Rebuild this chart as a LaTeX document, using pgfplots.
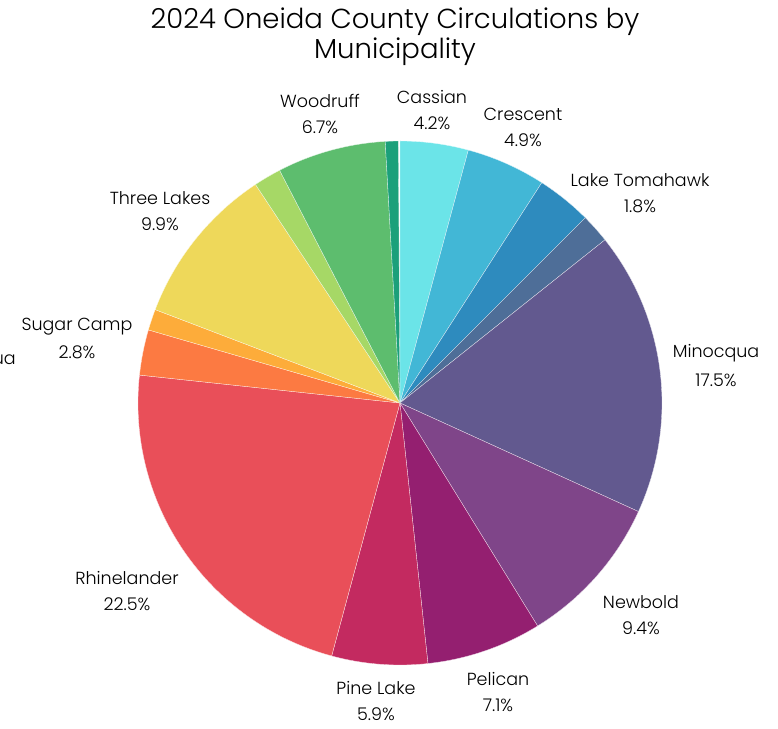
\documentclass[border=0pt]{standalone}
\usepackage{fontspec}
\setmainfont{Poppins}[UprightFont={* Light}]
\usepackage{pgfplots}
\usepackage{pgfplotstable}
\pgfplotsset{compat=1.18}
\definecolor{c0}{HTML}{6BE4E8}
\definecolor{c1}{HTML}{42B7D6}
\definecolor{c2}{HTML}{2E8BBE}
\definecolor{c3}{HTML}{4E6E98}
\definecolor{c4}{HTML}{62598F}
\definecolor{c5}{HTML}{7F4589}
\definecolor{c6}{HTML}{941F70}
\definecolor{c7}{HTML}{C32A60}
\definecolor{c8}{HTML}{E94F59}
\definecolor{c9}{HTML}{FC7A42}
\definecolor{c10}{HTML}{FDAC3A}
\definecolor{c11}{HTML}{EED85A}
\definecolor{c12}{HTML}{A6D866}
\definecolor{c13}{HTML}{5DBD6E}
\definecolor{c14}{HTML}{1BA07A}
\pgfplotstableread[col sep=comma]{
name,value
Cassian,4.2
Crescent,4.9
Hazelhurst,3.4
Lake Tomahawk,1.8
Minocqua,17.5
Newbold,9.4
Pelican,7.1
Pine Lake,5.9
Rhinelander,22.5
Sugar Camp,2.8
Other A,1.3
Three Lakes,9.9
Other B,1.7
Woodruff,6.7
Other C,0.8
}\data
\begin{document}
\begin{tikzpicture}
\begin{axis}[hide axis, x=1pt, y=1pt, xmin=-400, xmax=378, ymin=-325, ymax=403,
  scale only axis, anchor=south west, at={(0,0)}, clip=false]
\pgfmathsetmacro\cum{0}
\pgfplotsforeachungrouped \i in {0,...,14}{%
  \pgfplotstablegetelem{\i}{value}\of\data
  \let\v\pgfplotsretval
  \pgfmathsetmacro\a{90-3.6*\cum}%
  \pgfmathsetmacro\b{90-3.6*(\cum+\v)}%
  \edef\temp{\noexpand\fill[c\i, draw=white!85!c\i, line width=0.3pt] (axis cs:0,0) -- ++(\a:262pt) arc[start angle=\a, end angle=\b, radius=262pt] -- cycle;}%
  \temp
  \pgfmathsetmacro\cum{\cum+\v}%
}
\tikzset{lab/.style={align=center, font=\fontsize{17.5}{26}\selectfont, inner sep=0pt}}
\node[lab] at (axis cs:-80,289) {Woodruff\\6.7\%};
\node[lab] at (axis cs:32,293) {Cassian\\4.2\%};
\node[lab] at (axis cs:123,276) {Crescent\\4.9\%};
\node[lab] at (axis cs:240,210) {Lake Tomahawk\\1.8\%};
\node[lab, font=\fontsize{17.5}{29}\selectfont] at (axis cs:316,37) {Minocqua\\17.5\%};
\node[lab] at (axis cs:241,-212) {Newbold\\9.4\%};
\node[lab] at (axis cs:98,-289) {Pelican\\7.1\%};
\node[lab] at (axis cs:-24,-298) {Pine Lake\\5.9\%};
\node[lab] at (axis cs:-273,-188) {Rhinelander\\22.5\%};
\node[lab, font=\fontsize{17.5}{28}\selectfont] at (axis cs:-323,64) {Sugar Camp\\2.8\%};
\node[lab, anchor=east] at (axis cs:-384,43) {ua};
\node[lab] at (axis cs:-240,192) {Three Lakes\\9.9\%};
\node[align=center, font=\fontsize{27.5}{30}\selectfont, inner sep=0pt] at (axis cs:-5,366) {2024 Oneida County Circulations by\\Municipality};
\end{axis}
\pgfresetboundingbox
\useasboundingbox (0,0) rectangle (778pt,728pt);
\end{tikzpicture}
\end{document}
